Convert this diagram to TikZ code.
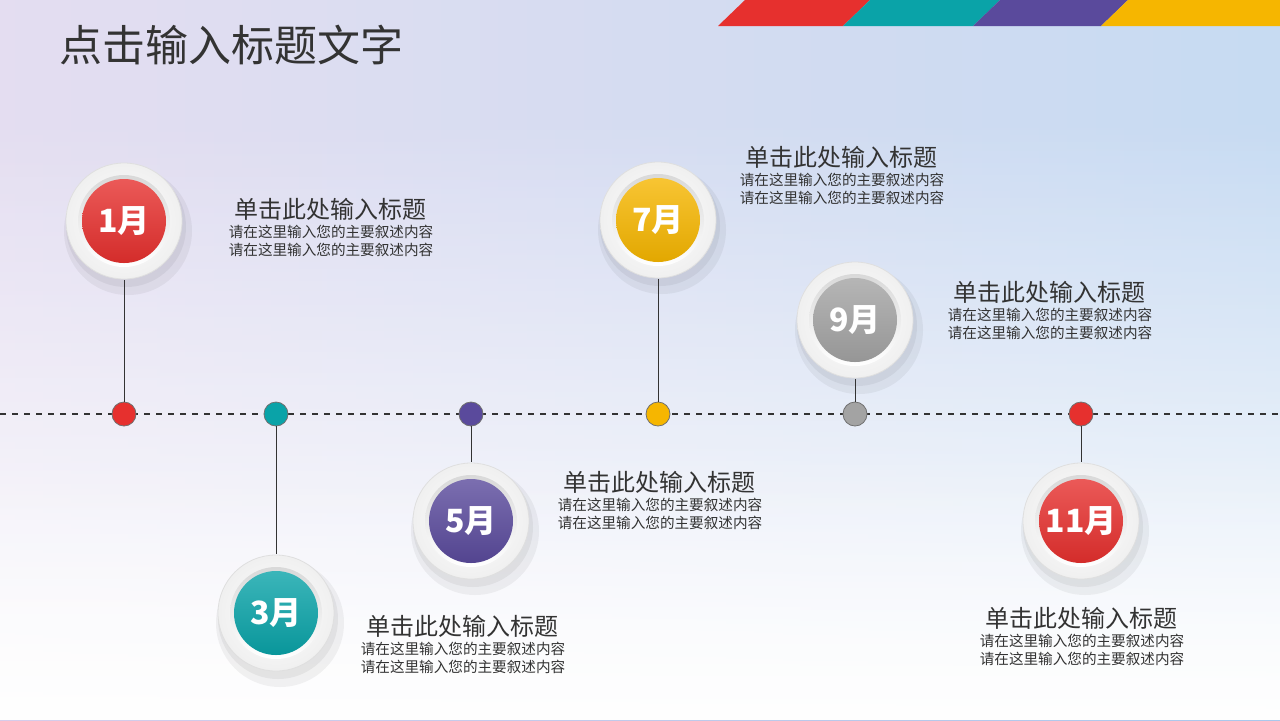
\documentclass[tikz,border=0pt]{standalone}
\usepackage{fontspec}
\setmainfont{Noto Sans CJK SC}
\usetikzlibrary{fadings}
\definecolor{cred}{HTML}{E6302E}
\definecolor{cteal}{HTML}{0AA3A8}
\definecolor{cpurple}{HTML}{5A4A9C}
\definecolor{cyellow}{HTML}{F6B600}
\definecolor{cgray}{HTML}{A3A3A3}
\definecolor{txt}{HTML}{333333}
\definecolor{bgl}{HTML}{D6CCEA}
\definecolor{bgr}{HTML}{A9C8EC}
\tikzset{
  dot/.style={circle,draw=txt!70,line width=0.4pt,minimum size=12pt,inner sep=0pt},
  stem/.style={draw=txt,line width=0.5pt},
  ttl/.style={font=\fontsize{12}{14}\selectfont,text=txt},
  sub/.style={font=\fontsize{7.3}{9}\selectfont,text=txt,align=center},
}
\begin{document}
\begin{tikzpicture}[x=0.5pt,y=-0.5pt]
\useasboundingbox (0,0) rectangle (1280,720);
\shade[left color=bgl,right color=bgr] (0,0) rectangle (1280,720);
\fill[white,path fading=north] (0,120) rectangle (1280,720);
\fill[white,opacity=0.6,path fading=north] (0,450) rectangle (1280,720);
\fill[white,opacity=0.35] (0,0) rectangle (1280,720);
% stripes
\fill[cred] (718,26)--(745,0)--(870,0)--(843,26)--cycle;
\fill[cteal] (843,26)--(870,0)--(1000,0)--(973,26)--cycle;
\fill[cpurple] (973,26)--(1000,0)--(1128,0)--(1101,26)--cycle;
\fill[cyellow] (1101,26)--(1128,0)--(1280,0)--(1280,26)--cycle;
\node[anchor=west,font=\fontsize{21.5}{24}\selectfont,text=txt] (title) at (52,45) {点击输入标题文字};
% timeline
\coordinate (l0) at (0,414); \coordinate (l1) at (1280,414);
\draw[dashed,line width=0.6pt,txt] (l0)--(l1);
% badges
\foreach \n/\x/\y/\c/\t in {b1/124/221/cred/1月,b3/276/613/cteal/3月,b5/471/521/cpurple/5月,b7/658/220/cyellow/7月,b9/855/320/cgray/9月,b11/1081/521/cred/11月}{
  \fill[black,opacity=0.05] (\x+4,\y+10) circle (64);
  \fill[black,opacity=0.05] (\x+2,\y+6) circle (60);
  \shade[inner color=white,outer color=gray!12] (\x,\y) circle (58);
  \draw[gray!25,line width=0.4pt] (\x,\y) circle (58);
  \shade[top color=gray!30,bottom color=white] (\x,\y) circle (46);
  \shade[top color=\c!80!white,bottom color=\c!92!black] (\x,\y) circle (42);
  \node[circle,minimum size=118pt*0.5,inner sep=0pt,text=white,font=\fontsize{16}{18}\selectfont\bfseries] (\n) at (\x,\y) {\t};
}
\foreach \n/\x/\c in {d1/124/cred,d3/276/cteal,d5/471/cpurple,d7/658/cyellow,d9/855/cgray,d11/1081/cred}{
  \node[dot,fill=\c] (\n) at (\x,414) {};
}
\draw[stem] (b1.south)--(d1.north);
\draw[stem] (d3.south)--(b3.north);
\draw[stem] (d5.south)--(b5.north);
\draw[stem] (b7.south)--(d7.north);
\draw[stem] (b9.south)--(d9.north);
\draw[stem] (d11.south)--(b11.north);
% texts
\foreach \x/\y in {330/209,462/626,659/482,841/157,1049/292,1081/618}{
  \node[ttl] at (\x,\y) {单击此处输入标题};
  \node[sub] at (\x+1,\y+32) {请在这里输入您的主要叙述内容\\请在这里输入您的主要叙述内容};
}
\end{tikzpicture}
\end{document}
